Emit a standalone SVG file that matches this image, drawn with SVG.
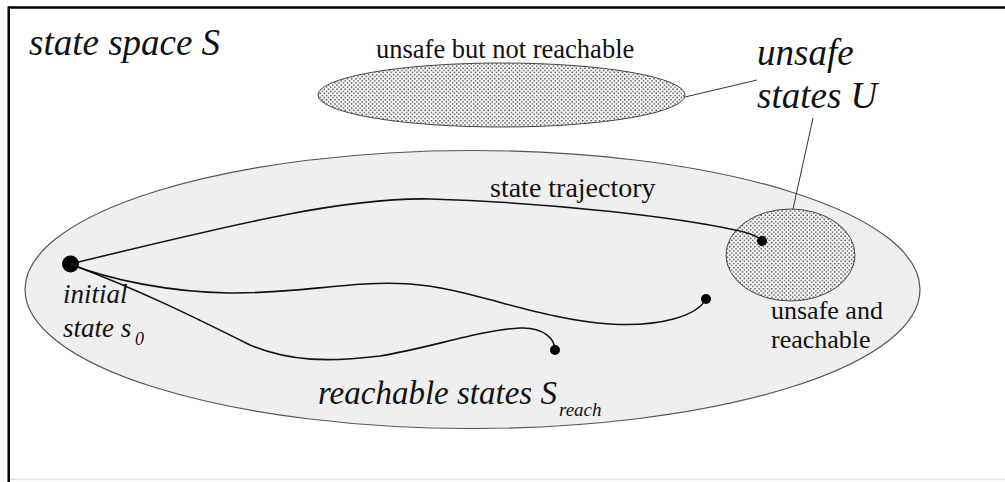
<svg xmlns="http://www.w3.org/2000/svg" width="1005" height="482" viewBox="0 0 1005 482">
  <style>
    .pointer { stroke: #333; stroke-width: 1; fill: none; }
    .traj { stroke: #111; stroke-width: 1.6; fill: none; }
    .dot { fill: #000; }
  </style>
  <defs>
    <pattern id="dots" width="4.2" height="4.2" patternUnits="userSpaceOnUse">
      <rect width="4.2" height="4.2" fill="#fff"/>
      <circle cx="1" cy="1" r="0.85" fill="#444"/>
      <circle cx="3.1" cy="3.1" r="0.85" fill="#444"/>
    </pattern>
  </defs>
  <rect width="1005" height="482" fill="#fff"/>
  <g id="state-space">
    <line x1="8.5" y1="7.5" x2="1005" y2="7.5" stroke="#000" stroke-width="2.5"/>
    <line x1="8.7" y1="6.5" x2="8.7" y2="482" stroke="#000" stroke-width="2.5"/>
    <line x1="10" y1="479.5" x2="1005" y2="479.5" stroke="#e2e2e2" stroke-width="1.5"/>
    <text x="29" y="55" font-family="Times New Roman, Liberation Serif, serif" font-style="italic" font-size="37" fill="#111">state space S</text>
  </g>
  <g id="reachable">
    <ellipse cx="472.5" cy="289.5" rx="447.5" ry="139" fill="#efefef" stroke="#555" stroke-width="1.2"/>
    <text x="318" y="404" font-family="Times New Roman, Liberation Serif, serif" font-style="italic" font-size="33" fill="#111">reachable states S</text>
    <text x="559" y="416" font-family="Times New Roman, Liberation Serif, serif" font-style="italic" font-size="19" fill="#111">reach</text>
  </g>
  <g id="unsafe-unreachable">
    <ellipse cx="501.5" cy="95" rx="183.5" ry="32" fill="url(#dots)" stroke="#444" stroke-width="1"/>
    <text x="376" y="58" font-family="Times New Roman, Liberation Serif, serif" font-size="26.5" fill="#111">unsafe but not reachable</text>
  </g>
  <g id="unsafe-reachable">
    <ellipse cx="790.5" cy="255" rx="64.5" ry="46" fill="url(#dots)" stroke="#444" stroke-width="1"/>
    <text x="771" y="319" font-family="Times New Roman, Liberation Serif, serif" font-size="26" fill="#111">unsafe and</text>
    <text x="771" y="348" font-family="Times New Roman, Liberation Serif, serif" font-size="26" fill="#111">reachable</text>
  </g>
  <g id="unsafe-label">
    <text x="757" y="65" font-family="Times New Roman, Liberation Serif, serif" font-style="italic" font-size="37" fill="#111">unsafe</text>
    <text x="757" y="108" font-family="Times New Roman, Liberation Serif, serif" font-style="italic" font-size="37" fill="#111">states U</text>
  </g>
  <g id="initial-state">
    <circle class="dot" cx="70.5" cy="264" r="8.5"/>
    <text x="63" y="303" font-family="Times New Roman, Liberation Serif, serif" font-style="italic" font-size="27" fill="#111">initial</text>
    <text x="63" y="337" font-family="Times New Roman, Liberation Serif, serif" font-style="italic" font-size="27" fill="#111">state s</text>
    <text x="135" y="345" font-family="Times New Roman, Liberation Serif, serif" font-style="italic" font-size="18" fill="#111">0</text>
  </g>
  <g id="trajectory-label">
    <text x="490" y="197" font-family="Times New Roman, Liberation Serif, serif" font-size="28" fill="#111">state trajectory</text>
  </g>
  <g id="connectors">
    <path class="traj" d="M70,264 C220,228 340,197 430,199 C560,203 680,218 735,230 C750,233 758,236 762,241"/>
    <path class="traj" d="M70,264 C110,280 170,292 229,293 C300,294 350,280 410,284 C470,288 540,320 610,324 C660,327 697,316 706,299"/>
    <path class="traj" d="M70,264 C140,290 200,320 250,345 C290,362 330,362 380,356 C430,348 480,330 520,328 C545,327 555,340 555,350"/>
    <line class="pointer" x1="685" y1="97" x2="757" y2="80"/>
    <line class="pointer" x1="813" y1="118" x2="793" y2="209"/>
    <circle class="dot" cx="762" cy="241" r="5"/>
    <circle class="dot" cx="706" cy="299" r="5"/>
    <circle class="dot" cx="555" cy="350" r="5"/>
  </g>
</svg>
